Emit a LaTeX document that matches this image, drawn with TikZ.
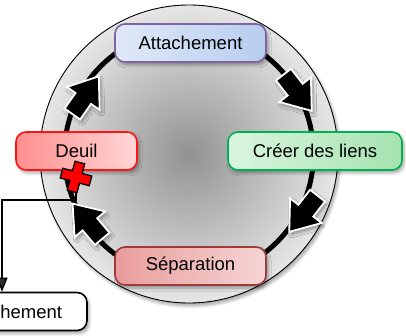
\documentclass[tikz,border=0pt]{standalone}
\usepackage{fontspec}
\setmainfont{Liberation Sans}
\usetikzlibrary{shadows.blur,arrows.meta}
\definecolor{discin}{HTML}{929292}
\definecolor{discout}{HTML}{E6E6E6}
\definecolor{attL}{HTML}{E0E9F8}
\definecolor{attR}{HTML}{B7CDEF}
\definecolor{attB}{HTML}{8064A2}
\definecolor{deuL}{HTML}{FF8F8F}
\definecolor{deuR}{HTML}{FFD6D6}
\definecolor{deuB}{HTML}{FF1414}
\definecolor{creL}{HTML}{DAF5DF}
\definecolor{creR}{HTML}{A5E3AF}
\definecolor{creB}{HTML}{00B050}
\definecolor{sepL}{HTML}{E99C9C}
\definecolor{sepR}{HTML}{F7D5D5}
\definecolor{sepB}{HTML}{9B3B3B}
\begin{document}
\begin{tikzpicture}[x=1pt,y=1pt,
  softshadow/.style={blur shadow={shadow xshift=2pt, shadow yshift=-3pt, shadow blur steps=6, shadow blur radius=3pt, shadow opacity=35}},
  box/.style={rounded corners=10pt, minimum height=38pt, line width=1.6pt,
    font=\fontsize{18.5}{20}\selectfont, inner sep=0pt, softshadow},
  blockarrow/.style={fill=black, draw=white, line width=1.8pt, line join=miter, softshadow},
  crossmark/.style={fill=red, draw=black, line width=1.3pt, line join=miter},
  link/.style={line width=1.3pt, -{Triangle[length=14pt,width=11pt]}},
]
\useasboundingbox (0,0) rectangle (406,335);
\coordinate (c) at (189,181);
% disc
\path[softshadow, inner color=discin, outer color=discout, draw=black, line width=0.9pt] (c) circle (149);
% ring
\draw[line width=5pt] (c) circle (124.5);
% block arrows
\foreach \px/\py/\a in {85/239/55, 297/243/-52, 304/122/-128, 88/113/130}{
  \begin{scope}[shift={(\px,\py)}, rotate=\a]
    \path[blockarrow] (-22,-9.5) -- (-3,-9.5) -- (-3,-20) -- (24,0) -- (-3,20) -- (-3,9.5) -- (-22,9.5) -- cycle;
  \end{scope}
}
% nodes
\node[box, minimum width=151pt, left color=attL, right color=attR, draw=attB] (att) at (190.5,292) {Attachement};
\node[box, minimum width=121pt, left color=deuL, right color=deuR, draw=deuB] (deuil) at (76.5,184) {Deuil};
\node[box, minimum width=174pt, left color=creL, right color=creR, draw=creB] (creer) at (315,184) {Créer des liens};
\node[box, minimum width=151pt, left color=sepL, right color=sepR, draw=sepB] (sep) at (190.5,69) {Séparation};
\node[box, minimum width=160pt, fill=white, draw=black] (det) at (7,23.5) {Détachement};
% connector
\coordinate (cross) at (76,158);
\coordinate (bend) at (2,135);
\draw[link] (cross) |- (bend) -- (bend |- det.north);
% red cross
\begin{scope}[shift={(cross)}, rotate=-15]
  \path[crossmark] (-5,-15) -- (5,-15) -- (5,-5) -- (15,-5) -- (15,5) -- (5,5) -- (5,15) -- (-5,15) -- (-5,5) -- (-15,5) -- (-15,-5) -- (-5,-5) -- cycle;
\end{scope}
\end{tikzpicture}
\end{document}
